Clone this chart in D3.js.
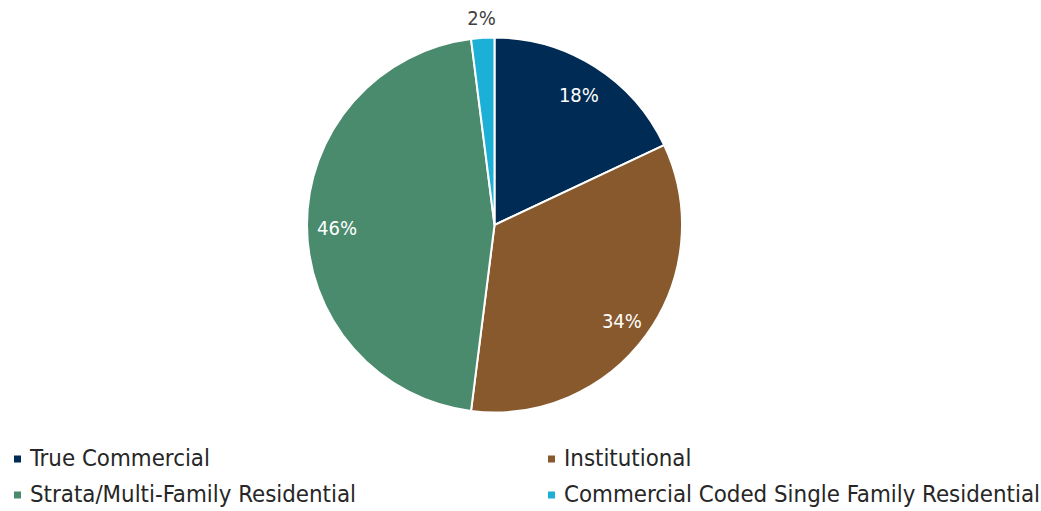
<!DOCTYPE html>
<html>
<head>
<meta charset="utf-8">
<script src="https://cdn.jsdelivr.net/npm/d3@7"></script>
<style>
  body { margin: 0; background: #fff; }
  svg { display: block; }
  text { font-family: "DejaVu Sans Condensed", "DejaVu Sans", sans-serif; }
</style>
</head>
<body>
<div id="chart"></div>
<script>
const categories = [
  "True Commercial",
  "Institutional",
  "Strata/Multi-Family Residential",
  "Commercial Coded Single Family Residential"
];
const shares = [18, 34, 46, 2];
const colors = ["#002b54", "#87592c", "#4a8a6d", "#1cb0d6"];

const width = 1041;
const height = 511;
const cx = 494.5;
const cy = 225;
const radius = 187.5;

const svg = d3.select("#chart").append("svg")
  .attr("width", width)
  .attr("height", height);

const data = categories.map((name, i) => ({name, value: shares[i], color: colors[i]}));

const pie = d3.pie()
  .sort(null)
  .value((d) => d.value);
const arcs = pie(data);

const arc = d3.arc().innerRadius(0).outerRadius(radius);
const labelArc = d3.arc().innerRadius(radius * 0.84).outerRadius(radius * 0.84);
const outerArc = d3.arc().innerRadius(radius + 20).outerRadius(radius + 20);

const g = svg.append("g").attr("transform", `translate(${cx},${cy})`);

g.selectAll("path")
  .data(arcs)
  .join("path")
  .attr("d", arc)
  .attr("fill", (d) => d.data.color)
  .attr("stroke", "#fff")
  .attr("stroke-width", 2);

// inside labels for the big slices, outside for the tiny one
g.selectAll("text.pct")
  .data(arcs)
  .join("text")
  .attr("class", "pct")
  .attr("transform", (d) => {
    const p = d.data.value < 5 ? outerArc.centroid(d) : labelArc.centroid(d);
    return `translate(${p})`;
  })
  .attr("text-anchor", "middle")
  .attr("dy", (d) => d.data.value < 5 ? "0.35em" : "0.5em")
  .attr("font-size", 20)
  .attr("fill", (d) => d.data.value < 5 ? "#404040" : "#fff")
  .text((d) => d.data.value + "%");

// legend, two columns
const legendX = d3.scaleOrdinal().domain([0, 1]).range([14, 548]);
const legendY = d3.scaleOrdinal().domain([0, 1]).range([458.5, 494.5]);

const legend = svg.append("g")
  .selectAll("g")
  .data(data)
  .join("g")
  .attr("transform", (d, i) => `translate(${legendX(i % 2)},${legendY(Math.floor(i / 2))})`);

legend.append("rect")
  .attr("x", 0)
  .attr("y", -3)
  .attr("width", 7)
  .attr("height", 7)
  .attr("fill", (d) => d.color);

legend.append("text")
  .attr("x", 16)
  .attr("dy", "0.33em")
  .attr("font-size", 23.8)
  .attr("fill", "#262626")
  .text((d) => d.name);
</script>
</body>
</html>
